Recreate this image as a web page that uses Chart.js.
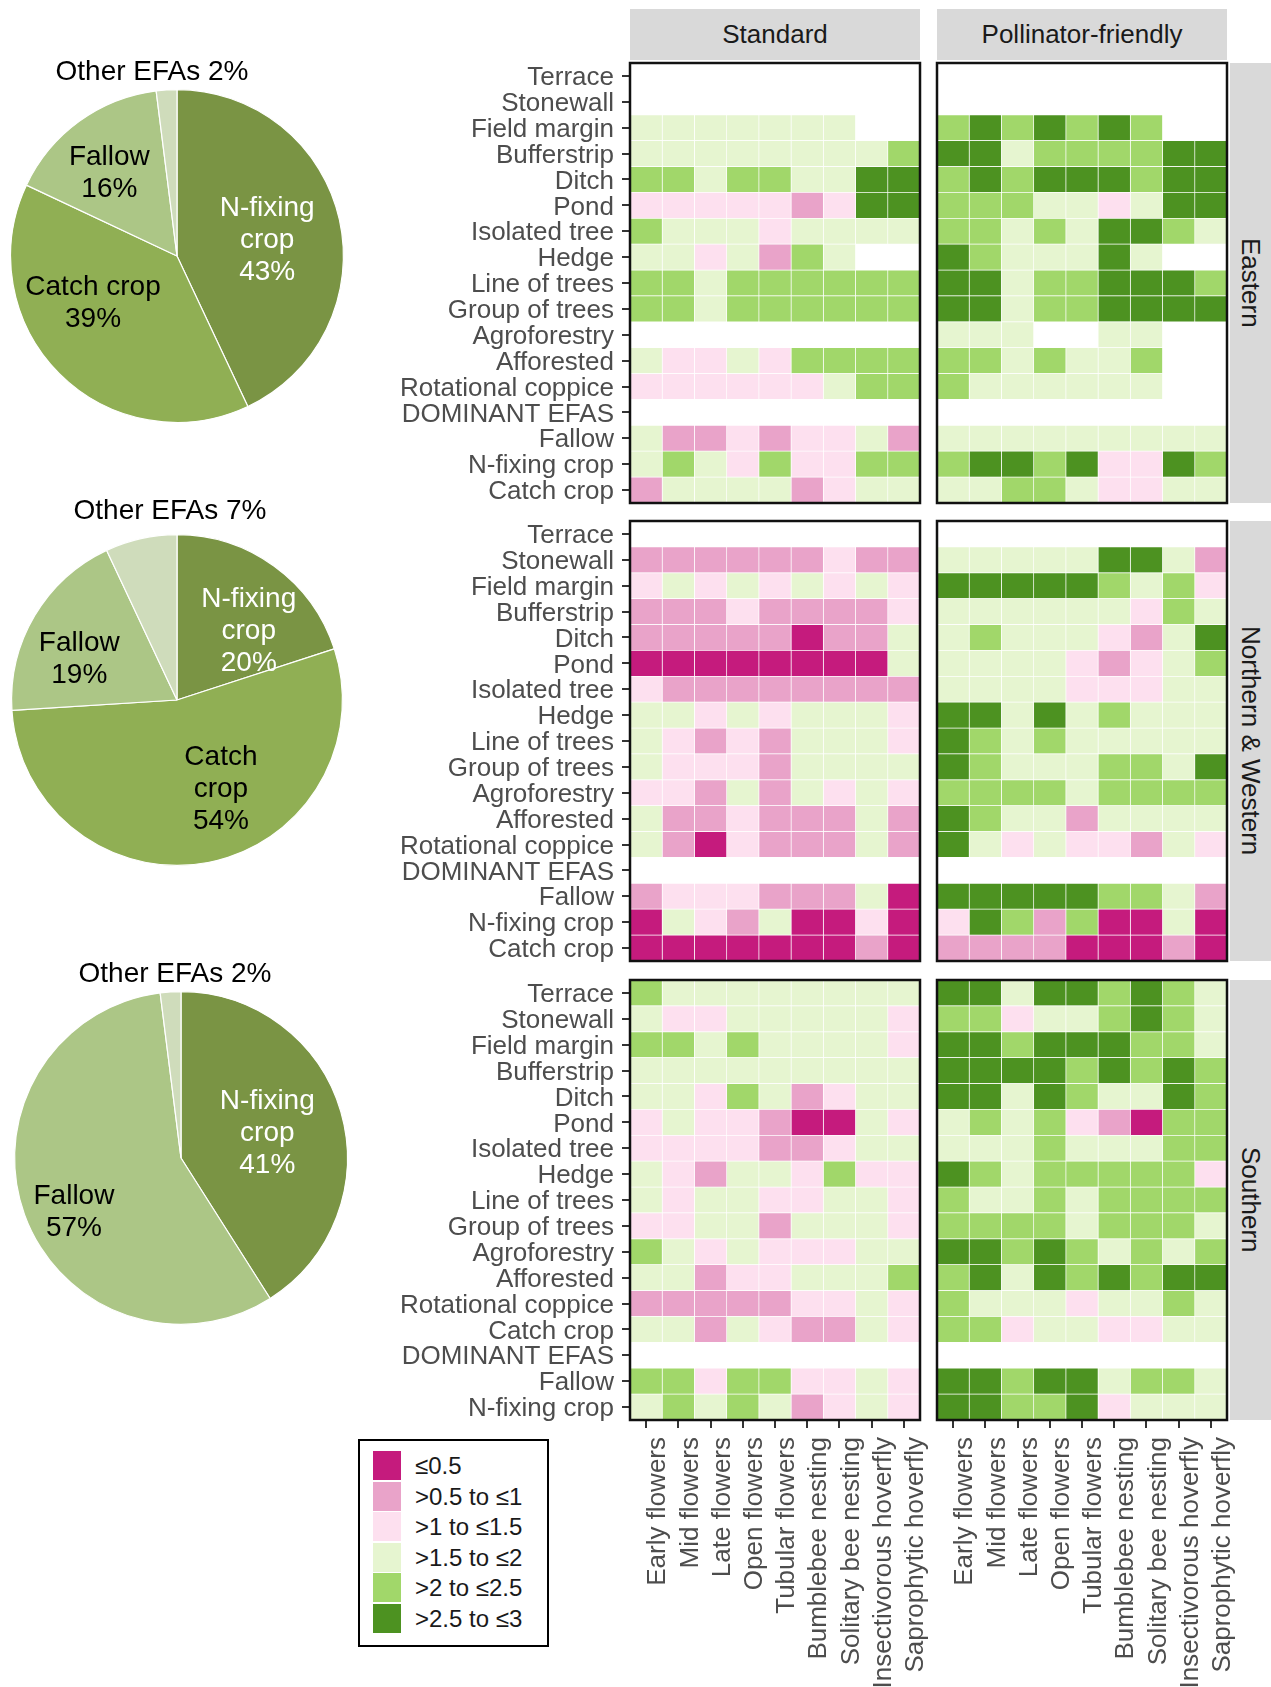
<!DOCTYPE html>
<html>
<head>
<meta charset="utf-8">
<script src="https://cdn.jsdelivr.net/npm/chart.js@4.4.0/dist/chart.umd.min.js"></script>
<style>
  body { margin:0; width:1271px; height:1687px; position:relative; overflow:hidden; background:#fff;
         font-family:"Liberation Sans", Arial, sans-serif; }
  canvas { position:absolute; }
  .strip { position:absolute; background:#d9d9d9; color:#1a1a1a; font-size:26px;
           display:flex; align-items:center; justify-content:center; }
  .vert { writing-mode:vertical-rl; }
  #legend { position:absolute; left:358px; top:1439px; width:187px; height:204px; border:2px solid #000; }
  .key { position:absolute; left:13px; width:28px; height:30px; box-sizing:border-box; border-bottom:1px solid #fff; }
  .ktxt { position:absolute; left:55px; font-size:24px; color:#1a1a1a; line-height:30px; }
</style>
</head>
<body>
<div class="strip" style="left:630px;top:9px;width:290px;height:51px">Standard</div>
<div class="strip" style="left:937px;top:9px;width:290px;height:51px">Pollinator-friendly</div>
<div class="strip vert" style="left:1230px;top:63px;width:41px;height:440px">Eastern</div>
<div class="strip vert" style="left:1230px;top:521px;width:41px;height:440px">Northern &amp; Western</div>
<div class="strip vert" style="left:1230px;top:980px;width:41px;height:440px">Southern</div>
<div id="legend"></div>

<script>
// pie shares (%)
const efaTypes = ['N-fixing crop', 'Catch crop', 'Fallow', 'Other EFAs'];
const eastShare = [43, 39, 16, 2];
const northWestShare = [20, 54, 19, 7];
const southShare = [41, 0, 57, 2];
const pieColors = ['#7a9444', '#90af54', '#acc686', '#cfdcbb'];

// heatmap axes
const cols = ['Early flowers', 'Mid flowers', 'Late flowers', 'Open flowers', 'Tubular flowers',
  'Bumblebee nesting', 'Solitary bee nesting', 'Insectivorous hoverfly', 'Saprophytic hoverfly'];
const rowsEN = ['Terrace', 'Stonewall', 'Field margin', 'Bufferstrip', 'Ditch', 'Pond', 'Isolated tree',
  'Hedge', 'Line of trees', 'Group of trees', 'Agroforestry', 'Afforested', 'Rotational coppice',
  'DOMINANT EFAS', 'Fallow', 'N-fixing crop', 'Catch crop'];
const rowsS = ['Terrace', 'Stonewall', 'Field margin', 'Bufferstrip', 'Ditch', 'Pond', 'Isolated tree',
  'Hedge', 'Line of trees', 'Group of trees', 'Agroforestry', 'Afforested', 'Rotational coppice',
  'Catch crop', 'DOMINANT EFAS', 'Fallow', 'N-fixing crop'];
const classLabels = ['≤0.5', '>0.5 to ≤1', '>1 to ≤1.5', '>1.5 to ≤2', '>2 to ≤2.5', '>2.5 to ≤3'];
const classColors = ['#c51b7d', '#e9a3c9', '#fde0ef', '#e6f5d0', '#a1d76a', '#4d9221'];

// class index per cell (0..5), '.' = no value
const eastStd = ['.........', '.........', '3333333..', '333333334', '443443355', '222221255',
  '433323333', '3323143..', '443444444', '443444444', '.........', '322324444', '222222344',
  '.........', '311212231', '343242244', '133331233'];
const eastPoll = ['.........', '.........', '4545454..', '553444455', '454555455', '444332355',
  '443435543', '5433353..', '553445554', '553445555', '333..33..', '4434334..', '4333333..',
  '.........', '333333333', '455452254', '334432233'];
const nwStd = ['.........', '111111211', '232323232', '111211112', '111110113', '000000003',
  '211111111', '332323332', '321213332', '322213333', '221313232', '311211131', '310211131',
  '.........', '122211130', '032130020', '000000010'];
const nwPoll = ['.........', '333335531', '555554342', '333333243', '343332135', '333321234',
  '333322233', '553534333', '543433333', '543334435', '444434444', '543313333', '532322132',
  '.........', '555554431', '254140030', '111100010'];
const sStd = ['433333333', '322333332', '443433332', '333333333', '332431233', '232210032',
  '222211233', '321332422', '323322332', '223313332', '432322233', '331223334', '111112232',
  '331321132', '.........', '442442232', '343431232'];
const sPoll = ['553554543', '442334543', '554555443', '555545454', '553543354', '343421044',
  '333433344', '543444442', '433434444', '444434443', '554543434', '453545455', '433323343',
  '442332233', '.........', '554553443', '554452333'];

Chart.defaults.font.family = '"Liberation Sans", Arial, sans-serif';
Chart.defaults.color = '#4d4d4d';

const panelBox = {
  id: 'panelBox',
  afterDraw(chart) {
    const { ctx, chartArea: a } = chart;
    ctx.save();
    ctx.strokeStyle = '#111';
    ctx.lineWidth = 2.5;
    ctx.strokeRect(a.left, a.top, a.right - a.left, a.bottom - a.top);
    ctx.restore();
  }
};

function heatmap(rows, codes, left, top, showY, showX) {
  const canvas = document.createElement('canvas');
  const yw = showY ? 270 : 0, xh = showX ? 267 : 0;
  const padL = showY ? 0 : 3, padR = showX ? 22 : 3;
  canvas.width = yw + 290 + padL + padR;
  canvas.height = 440 + 3 + (showX ? xh : 3);
  canvas.style.left = (left - yw - padL) + 'px';
  canvas.style.top = (top - 3) + 'px';
  document.body.appendChild(canvas);

  const datasets = cols.map((c, j) => ({
    label: c,
    data: rows.map((r, i) => codes[i][j] === '.' ? null : [j, j + 1]),
    backgroundColor: ctx => {
      const k = codes[ctx.dataIndex][j];
      return k === '.' ? 'rgba(0,0,0,0)' : classColors[+k];
    },
    borderColor: '#fff',
    borderWidth: 0.7,
    borderSkipped: false,
    grouped: false,
    barPercentage: 1,
    categoryPercentage: 1
  }));

  const tickGrid = { offset: false, drawOnChartArea: false, drawTicks: true, tickLength: 8, color: '#333', lineWidth: 2 };

  new Chart(canvas, {
    type: 'bar',
    data: { labels: rows, datasets },
    options: {
      indexAxis: 'y',
      responsive: false,
      animation: false,
      layout: { padding: { left: padL, right: padR, top: 3, bottom: showX ? 0 : 3 } },
      plugins: { legend: { display: false }, tooltip: { enabled: false } },
      scales: {
        x: { type: 'linear', min: 0, max: 9, display: false },
        y: {
          type: 'category', display: showY, offset: true,
          grid: tickGrid, border: { display: false },
          ticks: { color: '#4d4d4d', font: { size: 26 }, padding: 8, labelOffset: 2, autoSkip: false },
          afterFit: s => { if (showY) { s.width = yw; s.paddingTop = 0; s.paddingBottom = 0; } }
        },
        cols: {
          type: 'category', labels: cols, position: 'bottom', offset: true, display: showX,
          grid: tickGrid, border: { display: false },
          ticks: { color: '#4d4d4d', font: { size: 26 }, minRotation: 90, maxRotation: 90, autoSkip: false,
                   padding: 9, labelOffset: 12 },
          afterFit: s => { if (showX) { s.height = xh; s.paddingLeft = 0; s.paddingRight = 0; } }
        }
      }
    },
    plugins: [panelBox]
  });
}

heatmap(rowsEN, eastStd, 630, 63, true, false);
heatmap(rowsEN, eastPoll, 937, 63, false, false);
heatmap(rowsEN, nwStd, 630, 521, true, false);
heatmap(rowsEN, nwPoll, 937, 521, false, false);
heatmap(rowsS, sStd, 630, 980, true, true);
heatmap(rowsS, sPoll, 937, 980, false, true);

// pies
const pieLabels = {
  id: 'pieLabels',
  afterDatasetsDraw(chart, args, opts) {
    const { ctx } = chart;
    const meta = chart.getDatasetMeta(0);
    const values = chart.data.datasets[0].data;
    ctx.save();
    ctx.font = '28px "Liberation Sans", Arial, sans-serif';
    ctx.textAlign = 'center';
    ctx.textBaseline = 'middle';
    meta.data.forEach((arc, i) => {
      const v = values[i];
      if (!v) return;
      const p = arc.getProps(['x', 'y', 'startAngle', 'endAngle', 'outerRadius'], true);
      if (i === 3) {
        ctx.fillStyle = '#000';
        ctx.fillText(opts.names[i] + ' ' + v + '%', p.x + opts.other[0], p.y - p.outerRadius + opts.other[1]);
        return;
      }
      const mid = (p.startAngle + p.endAngle) / 2 + opts.turn[i];
      const rr = p.outerRadius * opts.radius[i];
      const lines = opts.names[i].split('\n').concat(v + '%');
      const cx = p.x + Math.cos(mid) * rr, cy = p.y + Math.sin(mid) * rr;
      const lh = 32;
      ctx.fillStyle = i === 0 ? '#fff' : '#000';
      lines.forEach((t, k) => ctx.fillText(t, cx, cy + (k - (lines.length - 1) / 2) * lh));
    });
    ctx.restore();
  }
};

function pie(shares, names, radius, turn, other, cx, cy, r) {
  const canvas = document.createElement('canvas');
  const padTop = 60, padBot = 6;
  canvas.width = 360;
  canvas.height = padTop + 2 * r + padBot;
  canvas.style.left = '0px';
  canvas.style.top = (cy - r - padTop) + 'px';
  document.body.appendChild(canvas);
  new Chart(canvas, {
    type: 'pie',
    data: { labels: efaTypes, datasets: [{ data: shares, backgroundColor: pieColors, borderColor: '#fff', borderWidth: 1.2 }] },
    options: {
      responsive: false,
      animation: false,
      layout: { padding: { top: padTop, bottom: padBot, left: cx - r, right: 360 - cx - r } },
      plugins: { legend: { display: false }, tooltip: { enabled: false }, pieLabels: { names, radius, turn, other } }
    },
    plugins: [pieLabels]
  });
}

pie(eastShare, ['N-fixing\ncrop', 'Catch crop', 'Fallow', 'Other EFAs'], [0.55, 0.58, 0.64], [0.05, 0.27, -0.06], [-25, -17], 177, 256, 167);
pie(northWestShare, ['N-fixing\ncrop', 'Catch\ncrop', 'Fallow', 'Other EFAs'], [0.6, 0.6, 0.64], [0.18, -0.27, -0.14], [-7, -23], 177, 700, 166);
pie(southShare, ['N-fixing\ncrop', 'Catch crop', 'Fallow', 'Other EFAs'], [0.54, 0.6, 0.72], [0, 0, -0.12], [-6, -17], 181, 1158, 167);

// legend
const legend = document.getElementById('legend');
classLabels.forEach((lab, i) => {
  const k = document.createElement('div');
  k.className = 'key';
  k.style.top = (10 + i * 30.5) + 'px';
  k.style.background = classColors[i];
  legend.appendChild(k);
  const t = document.createElement('div');
  t.className = 'ktxt';
  t.style.top = (10 + i * 30.5) + 'px';
  t.textContent = lab;
  legend.appendChild(t);
});
</script>
</body>
</html>
